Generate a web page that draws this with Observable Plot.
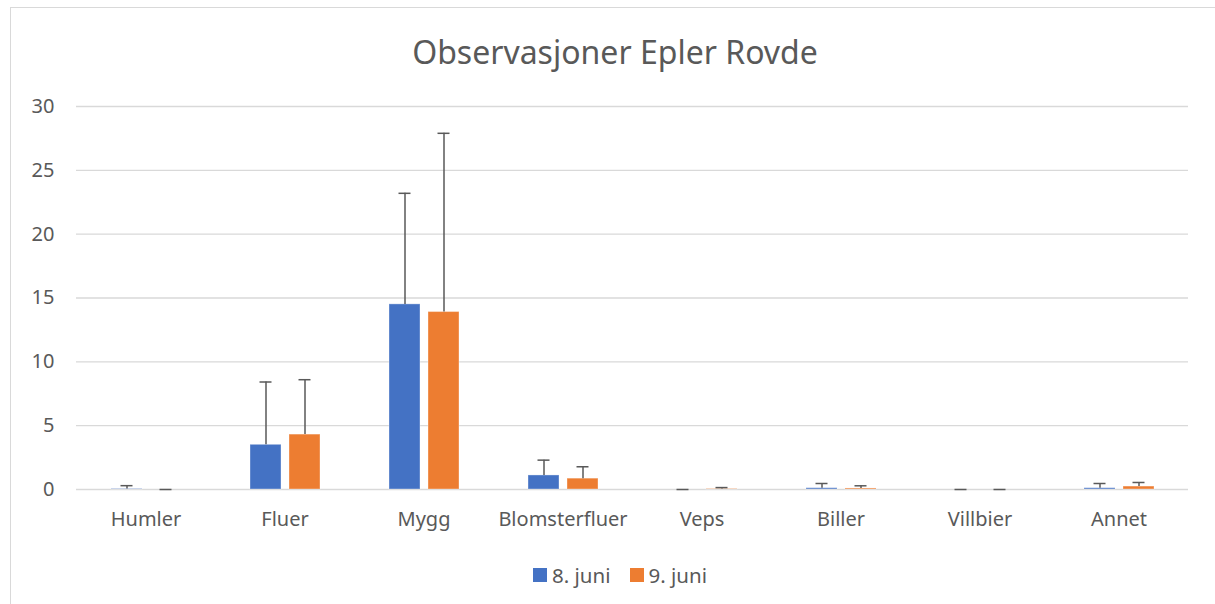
<!DOCTYPE html>
<html>
<head>
<meta charset="utf-8">
<script src="https://cdn.jsdelivr.net/npm/d3@7"></script>
<script src="https://cdn.jsdelivr.net/npm/@observablehq/plot@0.6"></script>
<style>
  html, body { margin: 0; padding: 0; background: #fff; overflow: hidden; }
  body { width: 1215px; height: 604px; position: relative; font-family: "Noto Sans", "Open Sans", sans-serif; color: #595959; }
  #frame { position: absolute; left: 10px; top: 7px; width: 1400px; height: 800px; border: 1px solid #d9d9d9; box-sizing: border-box; }
  #title { position: absolute; left: 0; width: 1230px; top: 30px; text-align: center; font-size: 32px; color: #595959; }
  #chart { position: absolute; left: 0; top: 80px; }
  #legend { position: absolute; top: 561px; left: 0; width: 1240px; display: flex; justify-content: center; gap: 19px; font-size: 20.5px; }
  #legend span.item { display: inline-flex; align-items: center; gap: 5px; }
  #legend span.sw { width: 14px; height: 14px; display: inline-block; }
</style>
</head>
<body>
<div id="frame"></div>
<div id="title">Observasjoner Epler Rovde</div>
<div id="chart"></div>
<div id="legend"></div>
<script>
const categories = ["Humler", "Fluer", "Mygg", "Blomsterfluer", "Veps", "Biller", "Villbier", "Annet"];
const seriesNames = ["8. juni", "9. juni"];
const seriesColors = ["#4472C4", "#ED7D31"];
const juni8 = [0.03, 3.5, 14.5, 1.1, 0, 0.1, 0, 0.1];
const juni9 = [0, 4.3, 13.9, 0.85, 0.03, 0.08, 0, 0.23];
const err8 = [0.27, 4.92, 8.7, 1.2, 0, 0.37, 0, 0.37];
const err9 = [0, 4.3, 14.0, 0.93, 0.12, 0.21, 0, 0.32];
const yTicks = [0, 5, 10, 15, 20, 25, 30];

const rows = [];
categories.forEach((c, i) => {
  rows.push({cat: c, series: seriesNames[0], value: juni8[i], err: err8[i]});
  rows.push({cat: c, series: seriesNames[1], value: juni9[i], err: err9[i]});
});

const chart = Plot.plot({
  width: 1215,
  height: 460,
  marginLeft: 74,
  marginRight: 25,
  marginTop: 26,
  marginBottom: 51,
  style: {fontFamily: "'Noto Sans', sans-serif", fontSize: "20px", color: "#595959", background: "transparent"},
  fx: {domain: categories, padding: 0, label: null, axis: "bottom", tickSize: 0, tickPadding: 22},
  x: {domain: seriesNames, paddingInner: 0.216, paddingOuter: 0.856, axis: null},
  y: {domain: [0, 30], ticks: yTicks, label: null, tickSize: 0, tickPadding: 22},
  color: {domain: seriesNames, range: seriesColors},
  marks: [
    Plot.gridY(yTicks, {stroke: "#d9d9d9", strokeOpacity: 1, strokeWidth: 1.3}),
    Plot.barY(rows, {fx: "cat", x: "series", y: "value", fill: "series", stroke: "#ffffff", strokeOpacity: 0.35, strokeWidth: 1}),
    Plot.ruleX(rows, {fx: "cat", x: "series", y1: "value", y2: d => d.value + d.err, stroke: "#595959", strokeWidth: 1.5}),
    Plot.tickY(rows, {fx: "cat", x: "series", y: d => d.value + d.err, stroke: "#595959", strokeWidth: 1.5, insetLeft: 9.5, insetRight: 9.5})
  ]
});
document.getElementById("chart").appendChild(chart);

const legend = document.getElementById("legend");
seriesNames.forEach((s, i) => {
  const item = document.createElement("span");
  item.className = "item";
  const sw = document.createElement("span");
  sw.className = "sw";
  sw.style.background = seriesColors[i];
  item.appendChild(sw);
  item.appendChild(document.createTextNode(s));
  legend.appendChild(item);
});
</script>
</body>
</html>
